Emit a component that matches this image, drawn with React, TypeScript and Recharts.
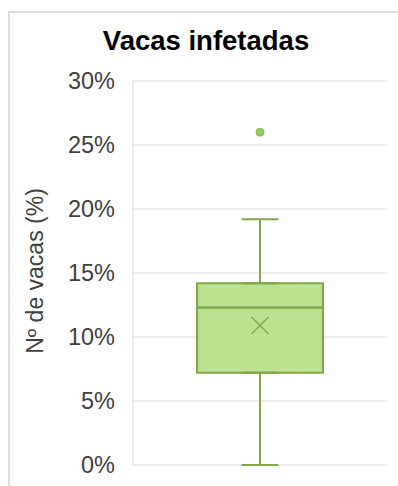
import { ComposedChart, Bar, Scatter, ErrorBar, XAxis, YAxis, CartesianGrid } from 'recharts';

// Box plot of infected cows: stacked bars for the box, error bars for whiskers,
// scatter marks for the mean (×) and the outlier.

const categories = ['Vacas infetadas'];
const minValues = [0];
const q1Values = [0.072];
const medianValues = [0.123];
const q3Values = [0.142];
const maxValues = [0.192];
const meanValues = [0.109];
const outlierValues = [0.26];
const yTicks = [0, 0.05, 0.1, 0.15, 0.2, 0.25, 0.3];

const FILL = '#B4DD87';
const EDGE = '#7FA64A';
const GRID = '#D9D9D9';
const TEXT = '#404040';
const FONT = '"Liberation Sans", Arial, sans-serif';

const data = categories.map((name, i) => ({
  name,
  base: q1Values[i],
  lowerBox: medianValues[i] - q1Values[i],
  upperBox: q3Values[i] - medianValues[i],
  lowWhisker: [q1Values[i] - minValues[i], 0],
  highWhisker: [0, maxValues[i] - q3Values[i]],
  mean: meanValues[i],
  outlier: outlierValues[i],
}));

function MeanMark({ cx, cy }: any) {
  const r = 8.5;
  return (
    <path
      d={`M${cx - r},${cy - r}L${cx + r},${cy + r}M${cx - r},${cy + r}L${cx + r},${cy - r}`}
      stroke="#86AD52"
      strokeWidth={1.6}
      fill="none"
    />
  );
}

function OutlierDot({ cx, cy }: any) {
  return <circle cx={cx} cy={cy} r={4} fill="#9ACB62" stroke="#88BA50" strokeWidth={1} />;
}

export default function App() {
  return (
    <div
      style={{
        position: 'fixed',
        left: 0,
        top: 0,
        width: 398,
        height: 486,
        overflow: 'hidden',
        background: '#fff',
        fontFamily: FONT,
      }}
    >
      {/* chart frame, cut by the page edge on the right and bottom */}
      <div
        style={{
          position: 'absolute',
          left: 8,
          top: 11,
          width: 500,
          height: 600,
          border: `2px solid #DEDEDE`,
          boxSizing: 'border-box',
        }}
      />
      <div
        style={{
          position: 'absolute',
          left: 56,
          top: 26.7,
          width: 300,
          textAlign: 'center',
          fontSize: 27.5,
          lineHeight: '27.5px',
          fontWeight: 'bold',
          color: '#000',
          whiteSpace: 'nowrap',
        }}
      >
        Vacas infetadas
      </div>
      <div
        style={{
          position: 'absolute',
          left: 35,
          top: 271,
          transform: 'translate(-50%, -50%) rotate(-90deg)',
          fontSize: 23,
          color: TEXT,
          whiteSpace: 'nowrap',
        }}
      >
        Nº de vacas (%)
      </div>
      <div style={{ position: 'absolute', left: 0, top: 0 }}>
        <ComposedChart width={398} height={486} data={data} margin={{ top: 81, right: 11, bottom: 21, left: 0 }}>
          <CartesianGrid vertical={false} stroke={GRID} strokeWidth={1} />
          <XAxis dataKey="name" hide />
          <YAxis
            width={133}
            domain={[0, 0.3]}
            ticks={yTicks}
            tickFormatter={(v: number) => `${Math.round(v * 100)}%`}
            tick={{ fontSize: 23.5, fill: TEXT, fontFamily: FONT }}
            tickLine={false}
            tickMargin={12}
            axisLine={{ stroke: GRID, strokeWidth: 1 }}
            allowDataOverflow
          />
          <Bar dataKey="base" stackId="box" fill="transparent" barSize={126} isAnimationActive={false}>
            <ErrorBar dataKey="lowWhisker" width={18.5} stroke={EDGE} strokeWidth={2} direction="y" />
          </Bar>
          <Bar
            dataKey="lowerBox"
            stackId="box"
            fill={FILL}
            fillOpacity={0.92}
            stroke={EDGE}
            strokeWidth={2}
            barSize={126}
            isAnimationActive={false}
          />
          <Bar
            dataKey="upperBox"
            stackId="box"
            fill={FILL}
            fillOpacity={0.92}
            stroke={EDGE}
            strokeWidth={2}
            barSize={126}
            isAnimationActive={false}
          >
            <ErrorBar dataKey="highWhisker" width={18.5} stroke={EDGE} strokeWidth={2} direction="y" />
          </Bar>
          <Scatter dataKey="mean" shape={<MeanMark />} isAnimationActive={false} />
          <Scatter dataKey="outlier" shape={<OutlierDot />} isAnimationActive={false} />
        </ComposedChart>
      </div>
    </div>
  );
}
